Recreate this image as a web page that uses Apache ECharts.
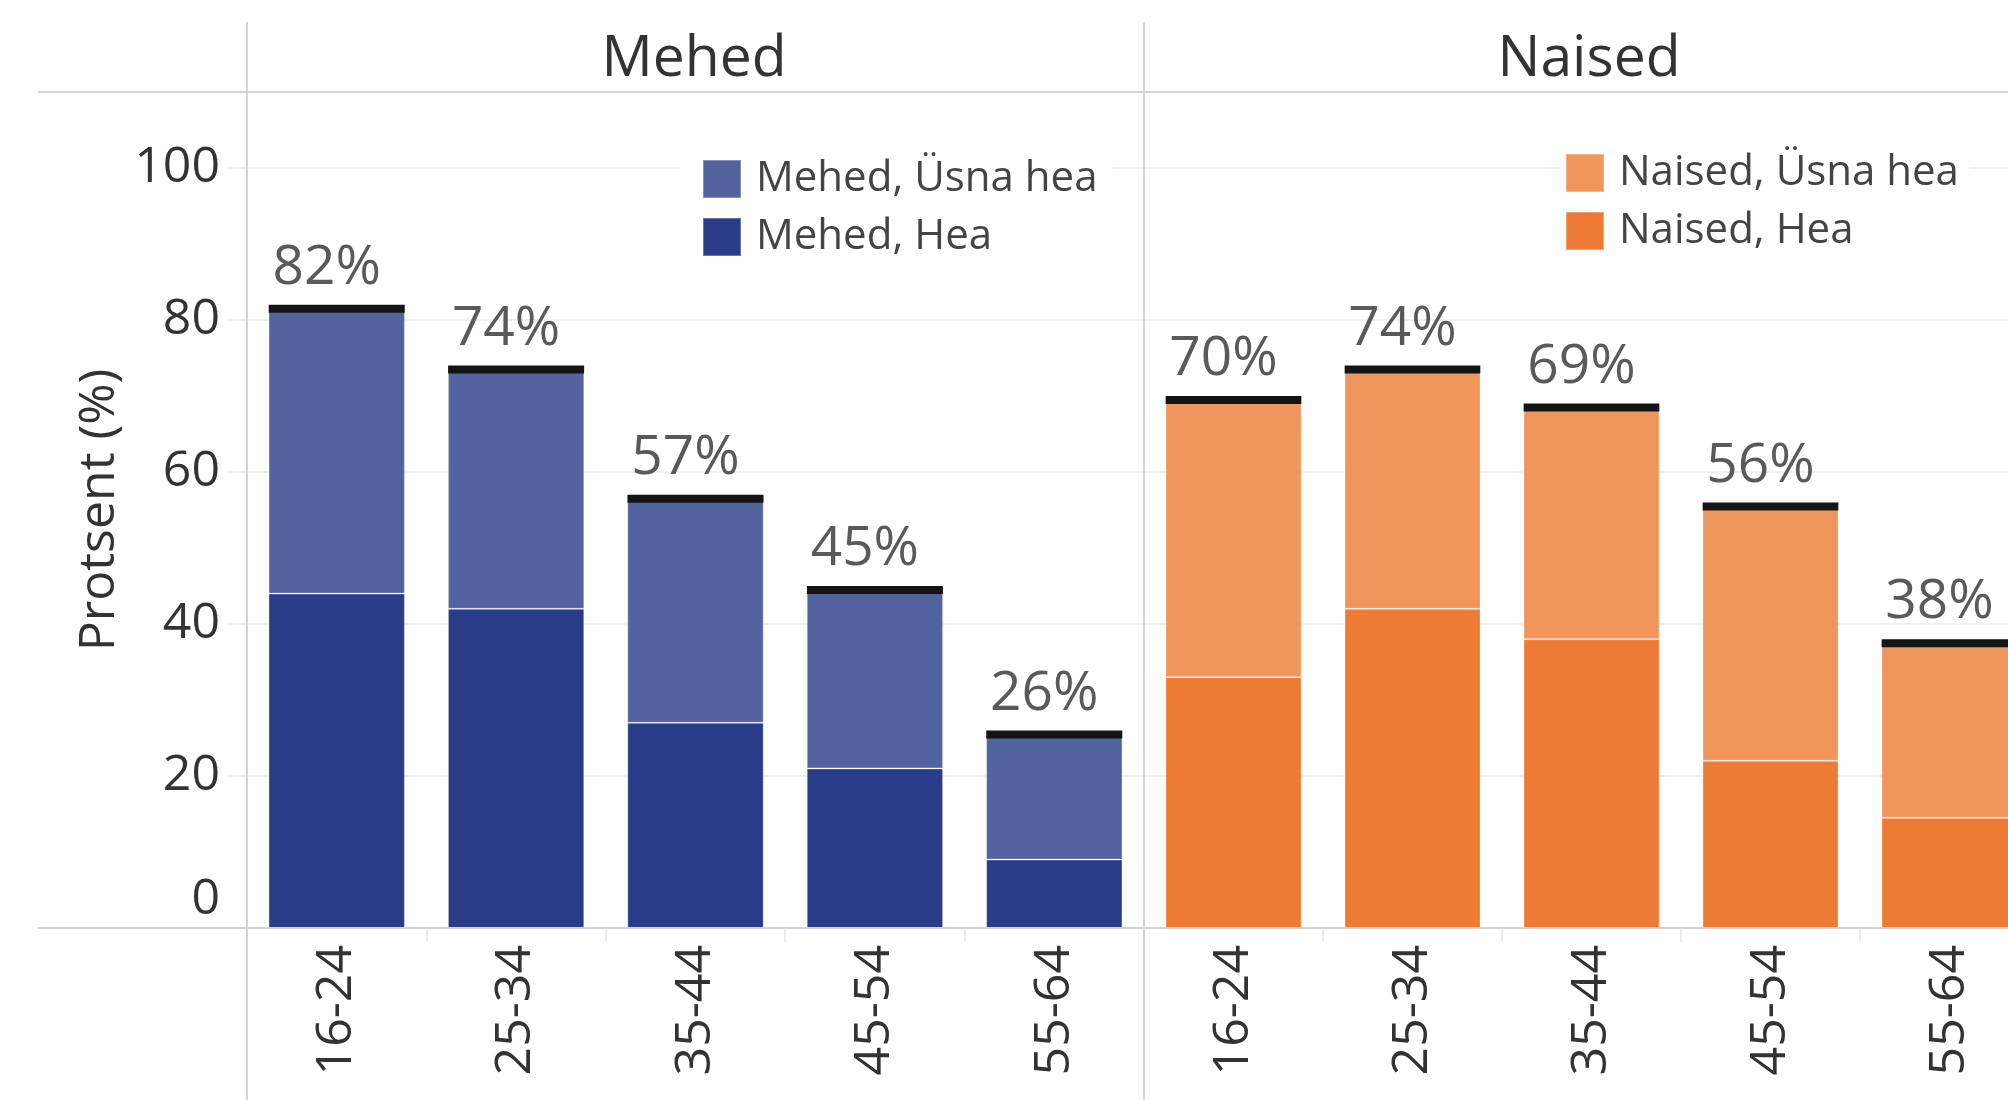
<!DOCTYPE html>
<html lang="et">
<head>
<meta charset="UTF-8">
<title>Mehed / Naised</title>
<script src="https://cdn.jsdelivr.net/npm/echarts@6/dist/echarts.min.js"></script>
<style>
html, body { margin: 0; padding: 0; background: #fff; }
#chart { width: 2008px; height: 1100px; }
</style>
</head>
<body>
<div id="chart"></div>
<script>
// vanuserühmad
const ageGroups = ['16-24', '25-34', '35-44', '45-54', '55-64'];
const panels = ['Mehed', 'Naised'];
// hinnangud, %
const menGood = [44, 42, 27, 21, 9];
const menFair = [38, 32, 30, 24, 17];
const womenGood = [33, 42, 38, 22, 14.5];
const womenFair = [37, 32, 31, 34, 23.5];
const yTicks = [0, 20, 40, 60, 80, 100];

const FONT = "'Open Sans', 'Noto Sans', sans-serif";
const BAR_FRAC = 0.758;

function totals(a, b) {
  return a.map(function (v, i) { return [i, v + b[i]]; });
}

// must kriips tulba peal + koguprotsent
function capItem(params, api) {
  const pt = api.coord([api.value(0), api.value(1)]);
  const w = api.size([1, 0])[0] * BAR_FRAC;
  return {
    type: 'group',
    children: [
      { type: 'rect', shape: { x: pt[0] - w / 2, y: pt[1], width: w, height: 8 }, style: { fill: '#141414' } },
      { type: 'text', x: pt[0] - 10, y: pt[1] - 9,
        style: { text: Math.round(api.value(1)) + '%', align: 'center', verticalAlign: 'bottom',
                 fontSize: 55, fontFamily: FONT, fill: '#5a5a5a' } }
    ]
  };
}

const chart = echarts.init(document.getElementById('chart'));

const gridTop = 92, gridH = 836;
const lineCol = '#d4d4d4';

function yAxisFor(idx) {
  return {
    type: 'value', gridIndex: idx, min: 0, max: 110, interval: 20,
    axisLine: { show: false },
    axisTick: { show: idx === 0, length: 18, lineStyle: { color: '#f0f0f0', width: 2 } },
    splitLine: { lineStyle: { color: '#f0f0f0', width: 2 } },
    axisLabel: {
      show: idx === 0, showMaxLabel: false, margin: 27, color: '#333', fontSize: 50, fontFamily: FONT,
      formatter: function (v) {
        if (yTicks.indexOf(v) < 0) return '';
        return v === 0 ? '{z|0}' : String(v);
      },
      rich: { z: { fontSize: 50, fontFamily: FONT, color: '#333', padding: [0, 0, 56, 0] } }
    },
    name: idx === 0 ? 'Protsent (%)' : '',
    nameLocation: 'middle', nameRotate: 90, nameGap: 122,
    nameTextStyle: { fontSize: 50, fontFamily: FONT, color: '#333' }
  };
}

function xAxisFor(idx) {
  return {
    type: 'category', gridIndex: idx, data: ageGroups,
    axisLine: { lineStyle: { color: lineCol, width: 2 } },
    axisTick: { show: true, length: 14, lineStyle: { color: '#ececec', width: 2 } },
    axisLabel: { rotate: 90, margin: 17, color: '#333', fontSize: 50, fontFamily: FONT }
  };
}

function barSeries(name, data, idx, color) {
  return {
    name: name, type: 'bar', stack: 's' + idx, data: data,
    xAxisIndex: idx, yAxisIndex: idx,
    barCategoryGap: '24%',
    itemStyle: { color: color, borderColor: 'rgba(255,255,255,0.3)', borderWidth: 1 }
  };
}

function legendFor(names, left, top, pad) {
  return {
    data: names, orient: 'vertical', left: left, top: top,
    itemWidth: 38, itemHeight: 38, itemGap: 16, icon: 'rect',
    selectedMode: false, backgroundColor: '#fff', padding: pad,
    textStyle: { fontSize: 42, fontFamily: FONT, color: '#444', padding: [0, 0, 0, 10] }
  };
}

const option = {
  backgroundColor: '#fff',
  animation: false,
  grid: [
    { left: 247, top: gridTop, width: 897, height: gridH, outerBoundsMode: 'none' },
    { left: 1144, top: gridTop, width: 895, height: gridH, outerBoundsMode: 'none' }
  ],
  xAxis: [xAxisFor(0), xAxisFor(1)],
  yAxis: [yAxisFor(0), yAxisFor(1)],
  legend: [
    legendFor(['Mehed, Üsna hea', 'Mehed, Hea'], 680, 150, [8, 15, 8, 22]),
    legendFor(['Naised, Üsna hea', 'Naised, Hea'], 1560, 144, [8, 10, 8, 5])
  ],
  graphic: [
    { type: 'line', shape: { x1: 38, y1: 92, x2: 2008, y2: 92 }, style: { stroke: lineCol, lineWidth: 2 }, z: 10 },
    { type: 'line', shape: { x1: 38, y1: 928, x2: 2008, y2: 928 }, style: { stroke: lineCol, lineWidth: 2 }, z: 10 },
    { type: 'line', shape: { x1: 247, y1: 22, x2: 247, y2: 1100 }, style: { stroke: lineCol, lineWidth: 2 }, z: 10 },
    { type: 'line', shape: { x1: 1144, y1: 22, x2: 1144, y2: 1100 }, style: { stroke: lineCol, lineWidth: 2 }, z: 10 },
    { type: 'text', x: 694, y: 60, style: { text: panels[0], align: 'center', verticalAlign: 'middle', fontSize: 57, fontFamily: FONT, fill: '#333' } },
    { type: 'text', x: 1589, y: 60, style: { text: panels[1], align: 'center', verticalAlign: 'middle', fontSize: 57, fontFamily: FONT, fill: '#333' } }
  ],
  series: [
    barSeries('Mehed, Hea', menGood, 0, '#2a3c87'),
    barSeries('Mehed, Üsna hea', menFair, 0, '#5263a0'),
    barSeries('Naised, Hea', womenGood, 1, '#ee7b35'),
    barSeries('Naised, Üsna hea', womenFair, 1, '#f0955c'),
    { type: 'custom', xAxisIndex: 0, yAxisIndex: 0, renderItem: capItem, data: totals(menGood, menFair), z: 5 },
    { type: 'custom', xAxisIndex: 1, yAxisIndex: 1, renderItem: capItem, data: totals(womenGood, womenFair), z: 5 }
  ]
};

chart.setOption(option);
window.addEventListener('resize', function () { chart.resize(); });
</script>
</body>
</html>
